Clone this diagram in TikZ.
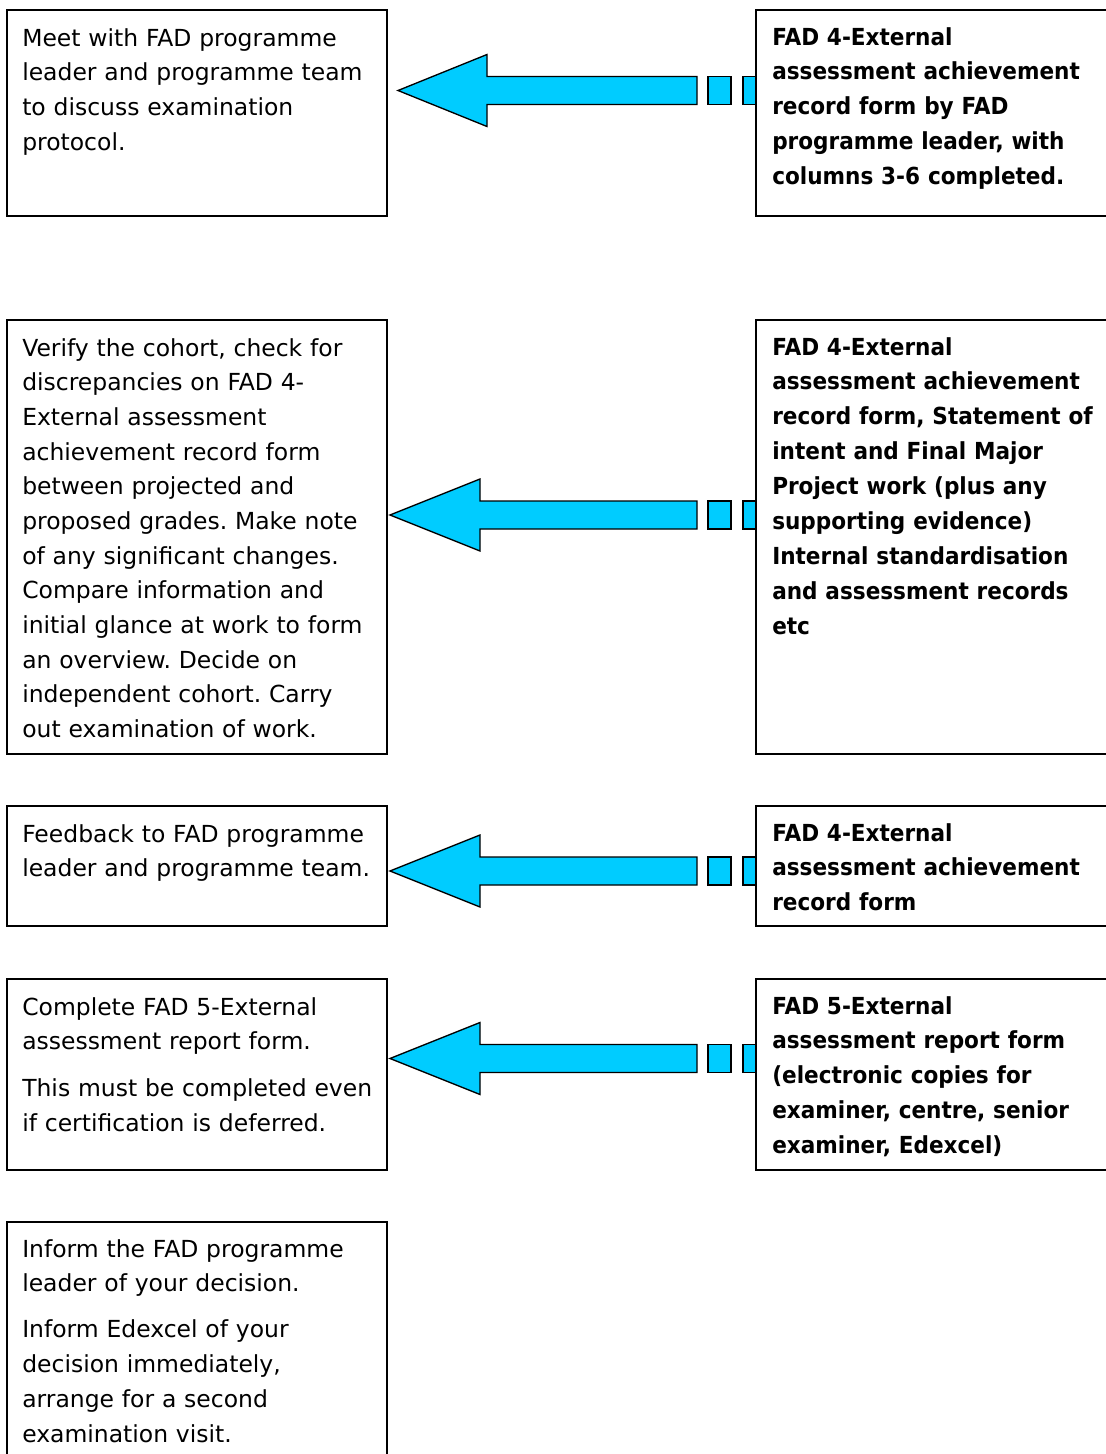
\documentclass[tikz,border=0pt]{standalone}
\usepackage{fontspec}
\setmainfont{DejaVu Sans}
\newfontfamily\rbf{DejaVu Sans Bold}[FakeStretch=0.92]
\definecolor{arrowcyan}{RGB}{0,204,255}
\frenchspacing
\newcommand\blockarrowat[3]{% #1 tip x, #2 centre y, #3 head length
  \draw[blockarrow] (#1,#2) -- (#1+#3,#2-36) -- (#1+#3,#2-14) -- (697,#2-14) -- (697,#2+14)
     -- (#1+#3,#2+14) -- (#1+#3,#2+36) -- cycle;
  \draw[blockarrow] (708,#2-14) rectangle (731,#2+14);
  \draw[blockarrow] (743,#2-14) rectangle (756,#2+14);}
\begin{document}
\begin{tikzpicture}[x=0.75pt,y=-0.75pt,
  box/.style={draw=black, line width=1.5pt, rectangle, anchor=north west, inner sep=0pt, outer sep=0pt},
  lbox/.style={box, minimum width=285pt},
  rbox/.style={box, minimum width=270pt},
  ltext/.style={anchor=base west, inner sep=0pt, text width=360pt, align=left,
                font=\fontsize{17.6}{26.2}\selectfont\frenchspacing},
  rtext/.style={ltext, font=\rbf\fontsize{17.6}{26.2}\selectfont\frenchspacing},
  blockarrow/.style={fill=arrowcyan, draw=black, line width=1pt, line join=miter}]
\useasboundingbox (0,0) rectangle (1106,1454);
\fill[white] (0,0) rectangle (1106,1454);
\clip (0,0) rectangle (1106,1454);

% arrows
\blockarrowat{398}{90.5}{89}
\blockarrowat{390}{515}{90}
\blockarrowat{390}{871}{90}
\blockarrowat{390}{1058.5}{90}

% row 1
\node[lbox, minimum height=154.5pt] (l1) at (7,10) {};
\node[rbox, minimum height=154.5pt] (r1) at (756,10) {};
\node[ltext] (l1t) at (22,46) {Meet with FAD programme\\leader and programme team\\to discuss examination\\protocol.};
\node[rtext] (r1t) at (772,45) {FAD 4-External\\assessment achievement\\record form by FAD\\programme leader, with\\columns 3-6 completed.};

% row 2
\node[lbox, minimum height=325.5pt] (l2) at (7,320) {};
\node[rbox, minimum height=325.5pt] (r2) at (756,320) {};
\node[ltext, font=\fontsize{17.6}{26}\selectfont\frenchspacing] (l2t) at (22,356) {Verify the cohort, check for\\discrepancies on FAD 4-\\External assessment\\achievement record form\\between projected and\\proposed grades. Make note\\of any significant changes.\\Compare information and\\initial glance at work to form\\an overview. Decide on\\independent cohort. Carry\\out examination of work.};
\node[rtext] (r2t) at (772,355) {FAD 4-External\\assessment achievement\\record form, Statement of\\intent and Final Major\\Project work (plus any\\supporting evidence)\\Internal standardisation\\and assessment records\\etc};

% row 3
\node[lbox, minimum height=90pt] (l3) at (7,806) {};
\node[rbox, minimum height=90pt] (r3) at (756,806) {};
\node[ltext] (l3t) at (22,842) {Feedback to FAD programme\\leader and programme team.};
\node[rtext] (r3t) at (772,841) {FAD 4-External\\assessment achievement\\record form};

% row 4
\node[lbox, minimum height=143.25pt] (l4) at (7,979) {};
\node[rbox, minimum height=143.25pt] (r4) at (756,979) {};
\node[ltext] (l4t) at (22,1015) {Complete FAD 5-External\\assessment report form.\\[9pt]This must be completed even\\if certification is deferred.};
\node[rtext] (r4t) at (772,1014) {FAD 5-External\\assessment report form\\(electronic copies for\\examiner, centre, senior\\examiner, Edexcel)};

% row 5
\node[lbox, minimum height=195pt] (l5) at (7,1222) {};
\node[ltext] (l5t) at (22,1257) {Inform the FAD programme\\leader of your decision.\\[8pt]Inform Edexcel of your\\decision immediately,\\arrange for a second\\examination visit.};
\end{tikzpicture}
\end{document}
